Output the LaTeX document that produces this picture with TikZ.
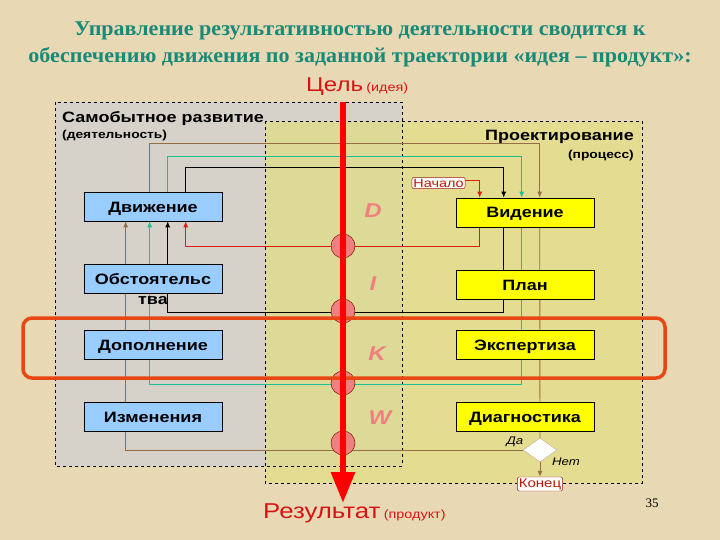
\documentclass[tikz,border=0pt]{standalone}
\usepackage{fontspec}
\setmainfont{Liberation Serif}
\setsansfont{Liberation Sans}
\newfontfamily\widesans{Liberation Sans}[FakeStretch=1.2]
\newfontfamily\wideserif{Liberation Serif}[FakeStretch=1.05]
\usetikzlibrary{positioning, arrows.meta, shapes.geometric}
\definecolor{parch}{RGB}{233,216,180}
\definecolor{titleteal}{RGB}{24,138,120}
\definecolor{goalred}{RGB}{215,20,20}
\definecolor{greyzone}{RGB}{214,210,202}
\definecolor{yelzone}{RGB}{226,224,120}
\definecolor{boxblue}{RGB}{153,204,255}
\definecolor{boxyellow}{RGB}{255,255,0}
\definecolor{lnbrown}{RGB}{150,110,70}
\definecolor{lngreen}{RGB}{30,190,150}
\definecolor{lnred}{RGB}{220,30,10}
\definecolor{ringred}{RGB}{240,128,128}
\definecolor{framered}{RGB}{232,70,20}
\definecolor{letterpink}{RGB}{240,128,128}
\pgfdeclarelayer{zones}
\pgfdeclarelayer{links}
\pgfsetlayers{zones,links,main}

\begin{document}
\begin{tikzpicture}[x=1pt, y=-1pt,
    lbox/.style={fill=boxblue, draw=black, line width=0.6pt, minimum width=138pt,
      minimum height=29pt, inner sep=0pt, text height=11pt, text depth=0pt,
      font=\widesans\bfseries\fontsize{15}{16}\selectfont},
    rbox/.style={lbox, fill=boxyellow},
    term/.style={fill=white, draw=lnred!70!black, rounded corners=2pt, inner sep=1.5pt,
      text=lnred!85!black, font=\widesans\fontsize{12}{13}\selectfont},
    link/.style={line width=0.9pt, -{Latex[length=6pt,width=5pt]}},
    ring/.style={circle, fill=ringred, draw=lnred!60!black, line width=0.5pt,
      minimum size=24pt, inner sep=0pt},
    stage/.style={text=letterpink, font=\widesans\bfseries\itshape\fontsize{20}{22}\selectfont},
    zonetext/.style={inner sep=0pt, font=\widesans\bfseries\fontsize{15}{16}\selectfont},
    zonesub/.style={inner sep=0pt, font=\widesans\bfseries\fontsize{11.5}{12}\selectfont},
    answer/.style={font=\widesans\itshape\fontsize{11}{12}\selectfont},
  ]
  \useasboundingbox (0,0) rectangle (720,540);

  % background and the two zones
  \begin{pgfonlayer}{zones}
    \fill[parch] (0,0) rectangle (720,540);
    \fill[greyzone] (55,102) rectangle (402,466);
    \fill[yelzone, fill opacity=0.6] (265,121) rectangle (642,483);
    \draw[dashed, line width=0.6pt] (55,102) rectangle (402,466);
    \draw[dashed, line width=0.6pt] (265,121) rectangle (642,483);
  \end{pgfonlayer}

  \node[align=center, inner sep=0pt, text=titleteal, font=\wideserif\bfseries\fontsize{21}{27}\selectfont]
    (title) at (360,44)
    {Управление результативностью деятельности сводится к\\обеспечению движения по заданной траектории «идея – продукт»:};

  \node[anchor=base west, inner sep=0pt, text=goalred, font=\widesans] (goaltxt) at (306,92)
    {{\fontsize{20}{22}\selectfont Цель} {\fontsize{12}{14}\selectfont (идея)}};
  \node[anchor=base west, inner sep=0pt, text=goalred, font=\widesans] (resulttxt) at (263,518)
    {{\fontsize{21.5}{24}\selectfont Результат} {\fontsize{12}{14}\selectfont (продукт)}};

  \node[zonetext, anchor=base west] (selfdev) at (62,123) {Самобытное развитие};
  \node[zonesub, anchor=base west] (selfsub) at (62,139) {(деятельность)};
  \node[zonetext, anchor=base east] (design) at (634,141) {Проектирование};
  \node[zonesub, anchor=base east] (designsub) at (634,159) {(процесс)};

  % left column
  \node[lbox] (dvi) at (153,206.5) {Движение};
  \node[lbox] (obs) at (153,278.5) {Обстоятельс};
  \node[zonetext, below=3pt of obs] (obstail) {тва};
  \node[lbox] (dop) at (153,344.5) {Дополнение};
  \node[lbox] (izm) at (153,416.5) {Изменения};

  % right column
  \node[rbox] (vid) at (525,212.5) {Видение};
  \node[rbox] (plan) at (525,285) {План};
  \node[rbox] (exp) at (525,344.5) {Экспертиза};
  \node[rbox] (diag) at (525,416.5) {Диагностика};

  \node[term] (start) at (438.5,183) {Начало};
  \node[diamond, fill=white, draw=lnbrown!60, aspect=1.42, minimum width=34pt,
    minimum height=24pt, inner sep=0pt] (dec) at (540,450) {};
  \node[term, font=\widesans\fontsize{12.5}{13}\selectfont] (stop) at (540,484) {Конец};
  \node[answer] (yes) at (515,442) {Да};
  \node[answer] (no) at (566,462) {Нет};

  % feedback loops
  \begin{pgfonlayer}{links}
    \draw[link, lnbrown] ([xshift=66pt]dvi.north west) |- ([xshift=84pt,yshift=54pt]vid.north west)
      -- ([xshift=84pt]vid.north west);
    \draw[link, -, lnbrown] ([xshift=84pt]vid.south west) -- (dec.north);
    \draw[link, lnbrown] (dec.west) -| ([xshift=42pt]dvi.south west);
    \draw[link, lnbrown] (dec.south) -- (stop.north);

    \draw[link, lngreen] ([xshift=84pt]dvi.north west) |- ([xshift=66pt,yshift=41pt]vid.north west)
      -- ([xshift=66pt]vid.north west);
    \draw[link, lngreen] ([xshift=66pt]vid.south west) |- ([xshift=66pt,yshift=-163pt]dvi.south west)
      -- ([xshift=66pt]dvi.south west);

    \draw[link, black] ([xshift=102pt]dvi.north west) |- ([xshift=48pt,yshift=30pt]vid.north west)
      -- ([xshift=48pt]vid.north west);
    \draw[link, -, black] ([xshift=48pt]vid.south west) -- ([xshift=48pt]plan.north west);
    \draw[link, black] ([xshift=48pt]plan.south west) |- ([xshift=84pt,yshift=-91pt]dvi.south west)
      -- ([xshift=84pt]dvi.south west);

    \draw[link, lnred] ([yshift=3pt]start.east) -| ([xshift=24pt]vid.north west);
    \draw[link, lnred] ([xshift=24pt]vid.south west) |- ([xshift=102pt,yshift=-25pt]dvi.south west)
      -- ([xshift=102pt]dvi.south west);
  \end{pgfonlayer}

  % stages on the goal axis
  \node[stage] (sd) at (373,211) {D};
  \node[stage] (si) at (373,284) {I};
  \node[stage] (sk) at (377,354) {K};
  \node[stage] (sw) at (380,418) {W};
  \foreach \yy/\nm in {246/r1, 311/r2, 383/r3, 443/r4}
    \node[ring] (\nm) at (343,\yy) {};

  \draw[framered, line width=3.5pt, rounded corners=9pt] (23,318) rectangle (665,378);

  \coordinate (goal) at (343,102);
  \coordinate (result) at (343,503);
  \draw[red, line width=6pt, -{Triangle[width=23pt,length=31pt]}] (goal) -- (result);

  \node[font=\fontsize{13}{14}\selectfont] (pageno) at (652,503) {35};
\end{tikzpicture}
\end{document}
